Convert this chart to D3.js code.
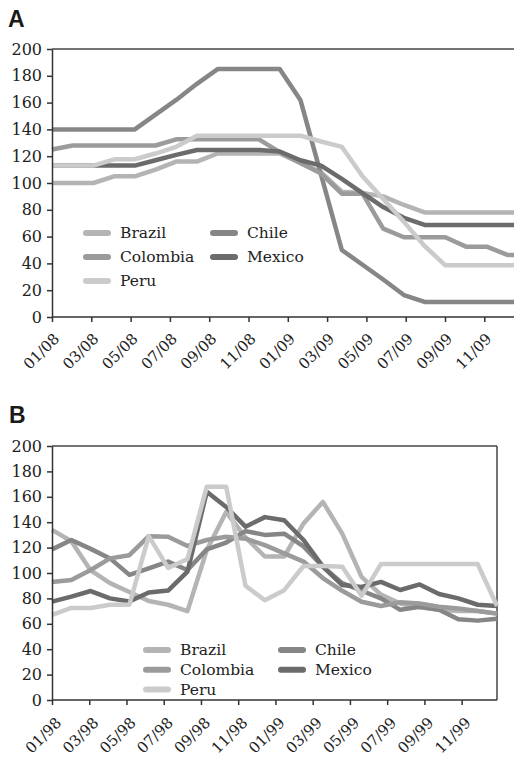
<!DOCTYPE html>
<html>
<head>
<meta charset="utf-8">
<script src="https://cdn.jsdelivr.net/npm/d3@7"></script>
<style>
body { margin: 0; background: #fff; }
text { font-family: "DejaVu Serif", serif; fill: #222; }
.title { font-family: "Liberation Sans", Arial, sans-serif; font-weight: bold; fill: #1a1a1a; }
</style>
</head>
<body>
<div id="chart"></div>
<script>
//  Data (index values, one point per month)
var countries = ["Brazil", "Chile", "Colombia", "Mexico", "Peru"];
var colors = ["#b4b4b4", "#868686", "#9b9b9b", "#6b6b6b", "#cbcbcb"];

var labelsA = ["01/08", "03/08", "05/08", "07/08", "09/08", "11/08",
	"01/09", "03/09", "05/09", "07/09", "09/09", "11/09"];
var labelsB = ["01/98", "03/98", "05/98", "07/98", "09/98", "11/98",
	"01/99", "03/99", "05/99", "07/99", "09/99", "11/99"];
var yTicks = [0, 20, 40, 60, 80, 100, 120, 140, 160, 180, 200];

var brazilA = [100, 100, 100, 105, 105, 110, 116, 116, 122, 122, 122, 122, 115, 108, 93.5, 92.5, 90, 83.6, 78, 78, 78, 78, 78, 78];
var chileA = [140, 140, 140, 140, 140, 151, 162, 174, 185, 185, 185, 185, 162, 106, 50, 39, 28, 16.4, 11.2, 11.2, 11.2, 11.2, 11.2, 11.2];
var colombiaA = [125, 128, 128, 128, 128, 128, 132.6, 132.6, 132.6, 132.6, 132.6, 123, 115, 107, 92, 92, 66, 59.5, 59.5, 59.5, 52.5, 52.5, 46.3, 46.3];
var mexicoA = [113, 113, 113, 113, 113, 117, 121, 124.6, 124.6, 124.6, 124.6, 123.5, 117, 113, 103, 92.5, 82, 74, 68.7, 68.7, 68.7, 68.7, 68.7, 68.7];
var peruA = [113, 113, 113, 117.7, 117.7, 122, 127, 135.3, 135.3, 135.3, 135.3, 135.3, 135.3, 131, 127, 105, 88, 71, 53, 38.6, 38.6, 38.6, 38.6, 38.6];

var brazilB = [134, 125, 102, 92, 85, 78, 75, 70, 118, 148, 128, 113, 113, 139, 156, 131, 97, 83, 76, 73, 71, 70, 70, 68];
var chileB = [118.6, 126, 119, 111.5, 98.5, 103.7, 109, 102.4, 118.6, 124, 133, 130, 131, 121, 105, 92, 86, 80, 71, 73.5, 71, 63.5, 62.5, 64];
var colombiaB = [93, 94.5, 102.4, 111.5, 114, 129, 128.6, 121.3, 126, 128.6, 127, 122, 115.5, 109, 96, 86, 77.4, 74, 77, 76, 73.5, 72, 70, 68];
var mexicoB = [77.5, 81.4, 85.8, 80, 77.5, 84.6, 86.2, 101, 164, 152, 136.5, 144, 141.5, 126, 105, 90.5, 89, 93, 86.6, 91, 83.5, 80, 75, 74];
var peruB = [67, 72.5, 72.5, 75, 75, 129, 104, 111, 168, 168, 90, 78.5, 86.5, 105.5, 105.5, 105, 82, 107, 107, 107, 107, 107, 107, 74];

var width = 514, height = 757;

var svg = d3.select("#chart").append("svg")
	.attr("width", width).attr("height", height);

function drawPanel(p) {
	var g = svg.append("g");

	var y = d3.scaleLinear().domain([0, 200]).range([p.bottom, p.top]);
	//  data points and the month ticks do not share the same spacing
	var x = d3.scaleLinear().domain([0, 23]).range([p.left, p.left + 23 * p.step]);
	var t = d3.scaleLinear().domain([0, 24]).range([p.left, p.left + 24 * p.tickStep]);

	g.append("text").attr("class", "title").attr("x", p.titleX).attr("y", p.titleY)
		.style("font-size", "23px").text(p.title);

	//  plot frame
	g.append("line").attr("x1", p.left).attr("x2", p.right)
		.attr("y1", p.top).attr("y2", p.top)
		.attr("stroke", "#444").attr("stroke-width", 1.5);
	if (p.rightBorder) {
		g.append("line").attr("x1", p.right).attr("x2", p.right)
			.attr("y1", p.top).attr("y2", p.bottom)
			.attr("stroke", "#444").attr("stroke-width", 1.5);
	}

	var line = d3.line()
		.x(function(d, i) { return x(i); })
		.y(function(d) { return y(d); });

	g.append("g").selectAll("path").data(p.series).enter().append("path")
		.attr("d", line)
		.attr("fill", "none")
		.attr("stroke", function(d, i) { return colors[i]; })
		.attr("stroke-width", 4.5)
		.attr("stroke-linejoin", "round");

	//  y axis
	var ya = g.append("g").attr("transform", "translate(" + p.left + ",0)")
		.call(d3.axisLeft(y).tickValues(yTicks).tickSize(5).tickSizeOuter(0).tickPadding(5));
	ya.select(".domain").attr("stroke", "#333").attr("stroke-width", 1.5);
	ya.selectAll(".tick line").attr("stroke", "#333").attr("stroke-width", 1.5);
	ya.selectAll("text").style("font-size", "16px").style("font-family", "DejaVu Serif").attr("fill", "#222");

	//  x axis
	var xa = g.append("g").attr("transform", "translate(0," + p.bottom + ")")
		.call(d3.axisBottom(t).tickValues(d3.range(0, 24, 2)).tickSize(5).tickSizeOuter(0)
			.tickFormat(function(d) { return p.labels[d / 2]; }));
	xa.select(".domain").remove();
	xa.selectAll(".tick line").attr("stroke", "#333").attr("stroke-width", 1.5);
	xa.selectAll("text")
		.attr("x", 0).attr("y", 0).attr("dy", "0.35em")
		.attr("transform", "translate(" + p.labelDx + "," + p.labelDy + ") rotate(-45)")
		.style("text-anchor", "end")
		.style("font-size", "15px").style("font-family", "DejaVu Serif").attr("fill", "#222");
	g.append("line").attr("x1", p.left).attr("x2", p.right)
		.attr("y1", p.bottom).attr("y2", p.bottom)
		.attr("stroke", "#333").attr("stroke-width", 1.5);

	//  legend
	var lg = g.append("g").selectAll("g").data(countries).enter().append("g")
		.attr("transform", function(d, i) {
			return "translate(" + (i % 2 ? p.legX2 : p.legX1) + "," + (p.legY + Math.floor(i / 2) * p.legRow) + ")";
		});
	lg.append("line").attr("x1", 3).attr("x2", 25).attr("y1", 0).attr("y2", 0)
		.attr("stroke", function(d, i) { return colors[i]; })
		.attr("stroke-width", 6).attr("stroke-linecap", "round");
	lg.append("text").attr("x", 37).attr("y", 0).attr("dy", "0.35em")
		.style("font-size", "15.5px").text(function(d) { return d; });
}

drawPanel({
	title: "A", titleX: 8, titleY: 27,
	left: 52, right: 514, top: 49, bottom: 317,
	step: 20.7, tickStep: 19.65, labels: labelsA,
	labelDx: 4, labelDy: 19, rightBorder: false,
	series: [brazilA, chileA, colombiaA, mexicoA, peruA],
	legX1: 83, legX2: 210, legY: 233, legRow: 24
});

drawPanel({
	title: "B", titleX: 9, titleY: 423,
	left: 52, right: 497, top: 446, bottom: 700,
	step: 19.35, tickStep: 18.62, labels: labelsB,
	labelDx: 6, labelDy: 20, rightBorder: true,
	series: [brazilB, chileB, colombiaB, mexicoB, peruB],
	legX1: 143, legX2: 278, legY: 650, legRow: 19.7
});
</script>
</body>
</html>
